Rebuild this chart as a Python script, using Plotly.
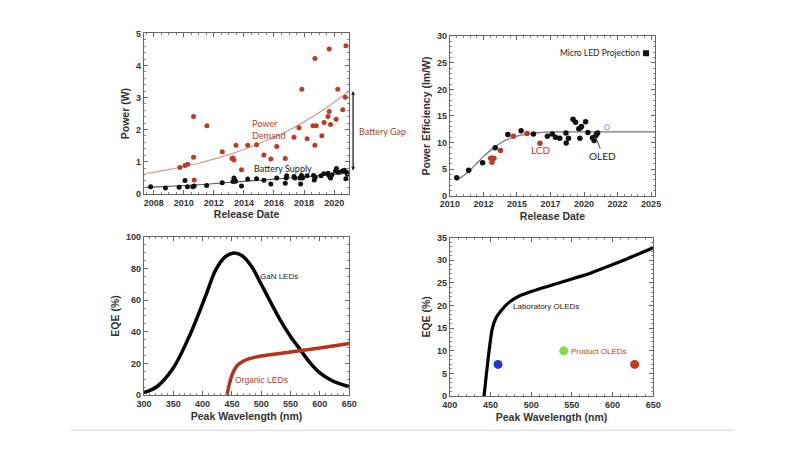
import plotly.graph_objects as go

# ---------------- Panel 1: Power vs release date ----------------
demand_year = [2009.74, 2010.08, 2010.26, 2010.65, 2010.65, 2010.69, 2011.54, 2012.56, 2013.20, 2013.27,
               2013.34, 2013.47, 2013.84, 2014.25, 2014.84, 2015.33, 2015.79, 2016.18, 2016.75, 2017.33,
               2017.66, 2017.85, 2018.20, 2018.59, 2018.72, 2018.72, 2018.81, 2019.18, 2019.33, 2019.59,
               2019.67, 2019.67, 2019.76, 2020.13, 2020.24, 2020.57, 2020.74, 2020.78]
demand_w = [0.82, 0.88, 0.92, 2.41, 1.14, 0.43, 2.12, 1.31, 1.10, 1.11,
            1.05, 1.51, 0.75, 1.51, 1.53, 1.21, 1.08, 1.47, 1.10, 1.76,
            2.06, 3.26, 1.71, 2.12, 4.22, 1.51, 2.12, 1.81, 2.22, 2.41,
            2.56, 4.51, 2.16, 2.32, 3.26, 2.62, 3.01, 4.61]

supply_year = [2007.80, 2008.78, 2009.69, 2010.08, 2010.24, 2010.60, 2010.69, 2011.52, 2012.56, 2013.27,
               2013.34, 2013.38, 2013.45, 2013.84, 2014.25, 2014.84, 2015.33, 2015.79, 2016.18, 2016.75,
               2016.81, 2016.84, 2017.33, 2017.38, 2017.72, 2017.77, 2017.83, 2017.90, 2018.20, 2018.63,
               2018.68, 2018.74, 2019.13, 2019.31, 2019.59, 2019.65, 2019.76, 2019.85, 2020.09, 2020.15,
               2020.28, 2020.54, 2020.69, 2020.78, 2020.82, 2020.89]
supply_w = [0.22, 0.18, 0.20, 0.41, 0.22, 0.22, 0.24, 0.26, 0.34, 0.38,
            0.49, 0.43, 0.39, 0.24, 0.46, 0.47, 0.42, 0.30, 0.49, 0.33,
            0.49, 0.56, 0.54, 0.49, 0.49, 0.30, 0.57, 0.49, 0.56, 0.57,
            0.43, 0.51, 0.56, 0.62, 0.64, 0.57, 0.49, 0.59, 0.71, 0.79,
            0.67, 0.71, 0.73, 0.47, 0.67, 0.61]

demand_fit_year = [2007.5, 2009, 2010, 2011, 2012, 2013, 2014, 2015, 2016, 2017, 2018, 2019, 2020, 2021]
demand_fit_w = [0.63, 0.75, 0.85, 0.95, 1.08, 1.22, 1.38, 1.56, 1.76, 1.98, 2.24, 2.53, 2.85, 3.20]

supply_fit_year = [2007.5, 2009, 2011, 2013, 2015, 2017, 2019, 2021]
supply_fit_w = [0.20, 0.23, 0.28, 0.35, 0.42, 0.49, 0.56, 0.64]

# ---------------- Panel 2: Power efficiency ----------------
oled_year = [2010.51, 2011.40, 2012.44, 2013.38, 2014.32, 2015.31, 2016.23, 2017.27, 2017.63, 2017.87,
             2018.19, 2018.65, 2018.67, 2018.84, 2019.18, 2019.37, 2019.61, 2019.69, 2019.73, 2019.81,
             2020.12, 2020.29, 2020.63, 2020.75, 2020.87, 2020.94, 2021.01]
oled_eff = [3.37, 4.78, 6.18, 9.0, 11.5, 12.2, 11.6, 11.2, 11.6, 11.0,
            10.8, 11.8, 9.9, 10.8, 14.4, 13.8, 12.6, 10.8, 12.8, 13.0,
            13.9, 11.9, 10.9, 10.4, 11.3, 11.6, 11.8]

lcd_year = [2013.04, 2013.16, 2013.28, 2013.14, 2013.77, 2014.73, 2015.75, 2016.71]
lcd_eff = [7.04, 7.04, 7.04, 6.3, 8.5, 11.2, 11.7, 9.86]

eff_fit_year = [2010.5, 2011.3, 2011.9, 2012.5, 2013.2, 2013.9, 2014.6, 2015.3, 2016.2, 2017.2, 2018.5, 2025.3]
eff_fit = [2.9, 4.3, 5.8, 7.35, 8.9, 10.1, 10.9, 11.4, 11.75, 11.95, 12.0, 12.0]

projection_year = [2021.71]
projection_eff = [12.86]

micro_led_year = [2024.62]
micro_led_eff = [26.8]

eff_tickvals = [2010, 2012.5, 2015, 2017.5, 2020, 2022.5, 2025]
eff_ticktext = ["2010", "2012", "2015", "2017", "2020", "2022", "2025"]

# ---------------- Panel 3: GaN vs organic LEDs ----------------
gan_nm = [300, 322, 350, 378, 406, 422, 439, 453, 467, 483, 500, 517, 533, 550, 567, 583, 600, 617, 633, 650]
gan_eqe = [1.6, 5.3, 17.1, 37.7, 63.4, 78.8, 87.4, 89.7, 88.1, 81.5, 70.0, 58.0, 47.0, 37.0, 28.5, 20.5, 14.0, 9.9, 7.2, 5.3]

org_nm = [441.7, 445, 450, 455, 460, 470, 480, 500, 550, 600, 650]
org_eqe = [0, 6, 12.5, 16.5, 19, 21.5, 23, 24.7, 27.2, 29.8, 32.6]

# ---------------- Panel 4: Laboratory vs product OLEDs ----------------
lab_nm = [442, 444.8, 448, 452, 456.8, 464, 472, 484, 500, 532, 552, 572, 592, 612, 650]
lab_eqe = [0, 4.7, 9.7, 14.8, 17.3, 19.1, 20.6, 22.0, 23.1, 24.9, 26.0, 27.1, 28.5, 29.9, 32.8]

product_nm = [459.2, 540, 627.2]
product_eqe = [7.0, 10.0, 7.0]
product_colors = ["#1f35d8", "#7fe043", "#c23a1c"]

RED = "#bf3a25"
TXT = "#333333"
FONT = "Liberation Sans"

fig = go.Figure()

# Panel 1
fig.add_trace(go.Scatter(x=demand_fit_year, y=demand_fit_w, mode="lines", line=dict(color="#d49a95", width=1.2, shape="spline"),
                         xaxis="x", yaxis="y", showlegend=False, hoverinfo="skip"))
fig.add_trace(go.Scatter(x=supply_fit_year, y=supply_fit_w, mode="lines", line=dict(color="#555555", width=1.2, shape="spline"),
                         xaxis="x", yaxis="y", showlegend=False, hoverinfo="skip"))
fig.add_trace(go.Scatter(x=demand_year, y=demand_w, mode="markers", marker=dict(color=RED, size=5),
                         xaxis="x", yaxis="y", showlegend=False))
fig.add_trace(go.Scatter(x=supply_year, y=supply_w, mode="markers", marker=dict(color="#111111", size=5),
                         xaxis="x", yaxis="y", showlegend=False))

# Panel 2
fig.add_trace(go.Scatter(x=eff_fit_year, y=eff_fit, mode="lines", line=dict(color="#777777", width=1.3, shape="spline", smoothing=0.8),
                         xaxis="x2", yaxis="y2", showlegend=False, hoverinfo="skip"))
fig.add_trace(go.Scatter(x=oled_year, y=oled_eff, mode="markers", marker=dict(color="#111111", size=5.5),
                         xaxis="x2", yaxis="y2", showlegend=False))
fig.add_trace(go.Scatter(x=lcd_year, y=lcd_eff, mode="markers", marker=dict(color=RED, size=5.5),
                         xaxis="x2", yaxis="y2", showlegend=False))
fig.add_trace(go.Scatter(x=projection_year, y=projection_eff, mode="markers",
                         marker=dict(color="rgba(0,0,0,0)", size=5, line=dict(color="#8c8ce0", width=1)),
                         xaxis="x2", yaxis="y2", showlegend=False))
fig.add_trace(go.Scatter(x=micro_led_year, y=micro_led_eff, mode="markers", marker=dict(color="#111111", size=6, symbol="square"),
                         xaxis="x2", yaxis="y2", showlegend=False, hoverinfo="skip"))

# Panel 3
fig.add_trace(go.Scatter(x=gan_nm, y=gan_eqe, mode="lines", line=dict(color="#000000", width=3.5, shape="spline", smoothing=0.9),
                         xaxis="x3", yaxis="y3", showlegend=False))
fig.add_trace(go.Scatter(x=org_nm, y=org_eqe, mode="lines", line=dict(color="#b8321a", width=3.5, shape="spline", smoothing=0.6),
                         xaxis="x3", yaxis="y3", showlegend=False))

# Panel 4
fig.add_trace(go.Scatter(x=lab_nm, y=lab_eqe, mode="lines", line=dict(color="#000000", width=3.2, shape="spline", smoothing=0.6),
                         xaxis="x4", yaxis="y4", showlegend=False))
fig.add_trace(go.Scatter(x=product_nm, y=product_eqe, mode="markers", marker=dict(color=product_colors, size=9),
                         xaxis="x4", yaxis="y4", showlegend=False))


def axis(domain, rng, dtick, minor, title, anchor, tickvals=None, ticktext=None):
    d = dict(domain=domain, range=rng, anchor=anchor, showgrid=False, zeroline=False,
             showline=True, linecolor="#666666", linewidth=1, mirror="allticks",
             ticks="inside", ticklen=4, tickcolor="#666666",
             minor=dict(dtick=minor, ticks="inside", ticklen=2, tickcolor="#888888"),
             tickfont=dict(family=FONT, size=9, color=TXT, weight="bold"),
             title=dict(text=title, font=dict(family=FONT, size=10.5, color=TXT, weight="bold"), standoff=4))
    if tickvals is not None:
        d.update(tickmode="array", tickvals=tickvals, ticktext=ticktext)
    else:
        d.update(dtick=dtick, tick0=0)
    return d


x1 = axis([137 / 800, 347 / 800], [2007.35, 2021.0], 2, 0.5, "Release Date", "y")
x1["tick0"] = 2008
y1 = axis([1 - 193 / 450, 1 - 29 / 450], [0, 5], 1, 0.2, "Power (W)", "x")
x2 = axis([450 / 800, 660 / 800], [2010, 2025.3], None, 0.5, "Release Date", "y2", eff_tickvals, eff_ticktext)
x2["minor"]["tick0"] = 2010
y2 = axis([1 - 195 / 450, 1 - 32 / 450], [0, 30], 5, 1, "Power Efficiency (lm/W)", "x2")
x3 = axis([137 / 800, 347 / 800], [300, 650], 50, 10, "Peak Wavelength (nm)", "y3")
y3 = axis([1 - 399 / 450, 1 - 237 / 450], [0, 100], 20, 5, "EQE (%)", "x3")
x4 = axis([450 / 800, 658 / 800], [400, 650], 50, 10, "Peak Wavelength (nm)", "y4")
y4 = axis([1 - 400 / 450, 1 - 238 / 450], [0, 35], 5, 1, "EQE (%)", "x4")

ann_font = dict(family="Lato", size=9)
annotations = [
    dict(text="Power<br>Demand", x=2014.4, y=2.01, xref="x", yref="y", showarrow=False, xanchor="left",
         font=dict(ann_font, color=RED), align="left"),
    dict(text="Battery Supply", x=2016.6, y=0.80, xref="x", yref="y", showarrow=False,
         font=dict(ann_font, color="#222222")),
    dict(text="Battery Gap", x=355 / 800, y=1.95, xref="paper", yref="y", showarrow=False, xanchor="left",
         font=dict(ann_font, color=RED)),
    dict(text="", x=351 / 800, y=3.2, xref="paper", yref="y", ax=0, ay=81,
         showarrow=True, arrowhead=2, arrowside="end+start", arrowsize=0.6, arrowwidth=1.3, arrowcolor="#222222"),
    dict(text="LCD", x=2016.72, y=8.6, xref="x2", yref="y2", showarrow=False,
         font=dict(ann_font, color=RED, size=10)),
    dict(text="OLED", x=2021.4, y=7.4, xref="x2", yref="y2", showarrow=False,
         font=dict(ann_font, color="#222222", size=10)),
    dict(text="", x=2020.85, y=11.1, xref="x2", yref="y2", ax=2021.25, ay=8.6, axref="x2", ayref="y2",
         showarrow=True, arrowhead=0, arrowwidth=1, arrowcolor="#444444"),
    dict(text="Micro LED Projection", x=2024.3, y=26.8, xref="x2", yref="y2", showarrow=False, xanchor="right",
         font=dict(ann_font, size=8.5, color="#222222")),
    dict(text="GaN LEDs", x=530.6, y=74.7, xref="x3", yref="y3", showarrow=False,
         font=dict(family=FONT, size=8, color="#222222")),
    dict(text="Organic LEDs", x=500, y=9.3, xref="x3", yref="y3", showarrow=False,
         font=dict(family=FONT, size=8.5, color=RED)),
    dict(text="Laboratory OLEDs", x=518, y=19.8, xref="x4", yref="y4", showarrow=False,
         font=dict(family=FONT, size=8, color="#222222")),
    dict(text="Product OLEDs", x=583, y=9.9, xref="x4", yref="y4", showarrow=False,
         font=dict(family=FONT, size=8, color=RED)),
]

fig.update_layout(
    width=800, height=450, margin=dict(l=0, r=0, t=0, b=0),
    paper_bgcolor="white", plot_bgcolor="white",
    xaxis=x1, yaxis=y1, xaxis2=x2, yaxis2=y2, xaxis3=x3, yaxis3=y3, xaxis4=x4, yaxis4=y4,
    annotations=annotations,
    shapes=[dict(type="line", xref="paper", yref="paper", x0=62 / 800, x1=741 / 800,
                 y0=1 - 435 / 450, y1=1 - 435 / 450, line=dict(color="#d6d6d6", width=1))],
)

fig.write_html("out.html")
